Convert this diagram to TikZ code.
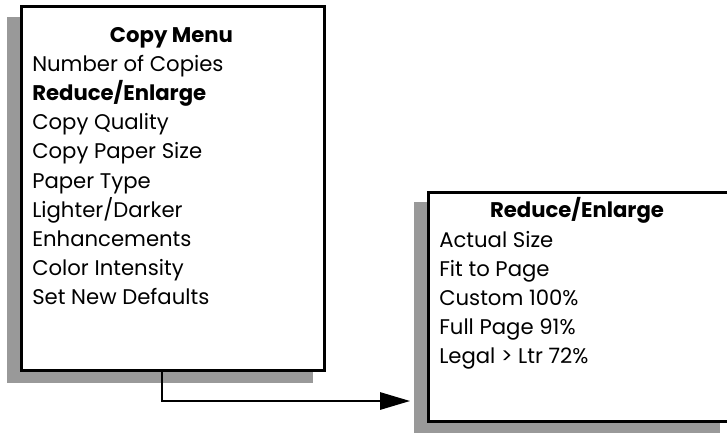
\documentclass[tikz,border=0pt]{standalone}
\usepackage{fontspec}
\setmainfont{Poppins}
\usetikzlibrary{arrows.meta}
\tikzset{>=latex}
\tikzset{
  shadow/.style={fill=black!40, draw=none},
  menubox/.style={draw, line width=1.9pt, fill=white, anchor=north west, inner sep=0pt},
  entry/.style={anchor=base west, inner sep=0pt, font=\fontsize{15.9}{18}\selectfont},
  heading/.style={anchor=base, inner sep=0pt, font=\fontsize{15.9}{18}\selectfont\bfseries}
}

\begin{document}
\begin{tikzpicture}[x=0.75pt,y=-0.75pt]
  \useasboundingbox (0,0) rectangle (727,433);

  % Shadows
  \fill[shadow] (7,17) rectangle (313,383);
  \fill[shadow] (414,202) rectangle (720,433);

  % Boxes
  \node[menubox, minimum width=227.25pt, minimum height=273pt] (copymenu) at (20,5) {};
  \node[menubox, minimum width=227.25pt, minimum height=171.75pt] (reduce) at (427,191) {};

  % Copy menu entries
  \node[heading] (copytitle) at (171.5,42) {Copy Menu};
  \foreach \name [count=\i] in {Number of Copies, {\textbf{Reduce/Enlarge}}, Copy Quality,
      Copy Paper Size, Paper Type, Lighter/Darker, Enhancements, Color Intensity,
      Set New Defaults}
    \node[entry] (copy-\i) at (32,{42+29.2*\i}) {\name};

  % Reduce/Enlarge entries
  \node[heading] (reducetitle) at (577,217) {Reduce/Enlarge};
  \foreach \name [count=\i] in {Actual Size, Fit to Page, Custom 100\%, Full Page 91\%,
      Legal > Ltr 72\%}
    \node[entry] (reduce-\i) at (439,{218+29*\i}) {\name};

  % Connector
  \coordinate (arrowend) at (410,401);
  \draw[line width=1.5pt, -{Triangle[length=22.5pt, width=13pt]}]
    ([xshift=-7.9pt]copymenu.south) |- (arrowend);
\end{tikzpicture}
\end{document}
